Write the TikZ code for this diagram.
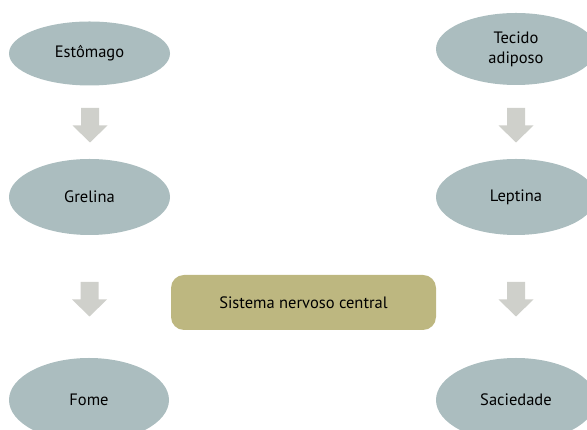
\documentclass[tikz,border=0pt]{standalone}
\usepackage{fontspec}
\setmainfont{PT Sans}
\usetikzlibrary{shapes.geometric}
\definecolor{ellfill}{HTML}{ABBDBF}
\definecolor{boxfill}{HTML}{BDB780}
\definecolor{arrfill}{HTML}{CFD0CB}
\tikzset{
  organ/.style={ellipse, fill=ellfill, inner sep=0pt, font=\fontsize{16.5}{20}\selectfont, align=center},
  center box/.style={rectangle, rounded corners=13pt, fill=boxfill, minimum width=265pt, minimum height=55pt, font=\fontsize{16.5}{20}\selectfont},
  blockarrow/.pic={
    \fill[arrfill] (-9,17.5) -- (9,17.5) -- (9,0) -- (17.5,0) -- (0,-17) -- (-17.5,0) -- (-9,0) -- cycle;
  }
}
\begin{document}
\begin{tikzpicture}[x=1pt,y=1pt]
  \useasboundingbox (0,0) rectangle (587,430);
  \clip (0,0) rectangle (587,430);
  % left column: hunger signal
  \node[organ, minimum width=161pt, minimum height=64pt] (estomago) at (89.5,376.5) {Estômago};
  \node[organ, minimum width=161pt, minimum height=76pt] (grelina) at (89.5,233) {Grelina};
  \node[organ, minimum width=160pt, minimum height=84pt] (fome) at (89,30) {Fome};
  % right column: satiety signal
  \node[organ, minimum width=160pt, minimum height=72pt] (tecido) at (516,381) {Tecido\\adiposo};
  \node[organ, minimum width=160pt, minimum height=76pt] (leptina) at (516,233) {Leptina};
  \node[organ, minimum width=160pt, minimum height=84pt] (saciedade) at (516,30) {Saciedade};
  % central nervous system
  \node[center box] (snc) at (303.5,127.5) {Sistema nervoso central};
  % block arrows between the stages
  \pic at (90,304.5) {blockarrow};
  \pic at (516,304.5) {blockarrow};
  \pic at (89.5,130.5) {blockarrow};
  \pic at (516,130.5) {blockarrow};
\end{tikzpicture}
\end{document}
